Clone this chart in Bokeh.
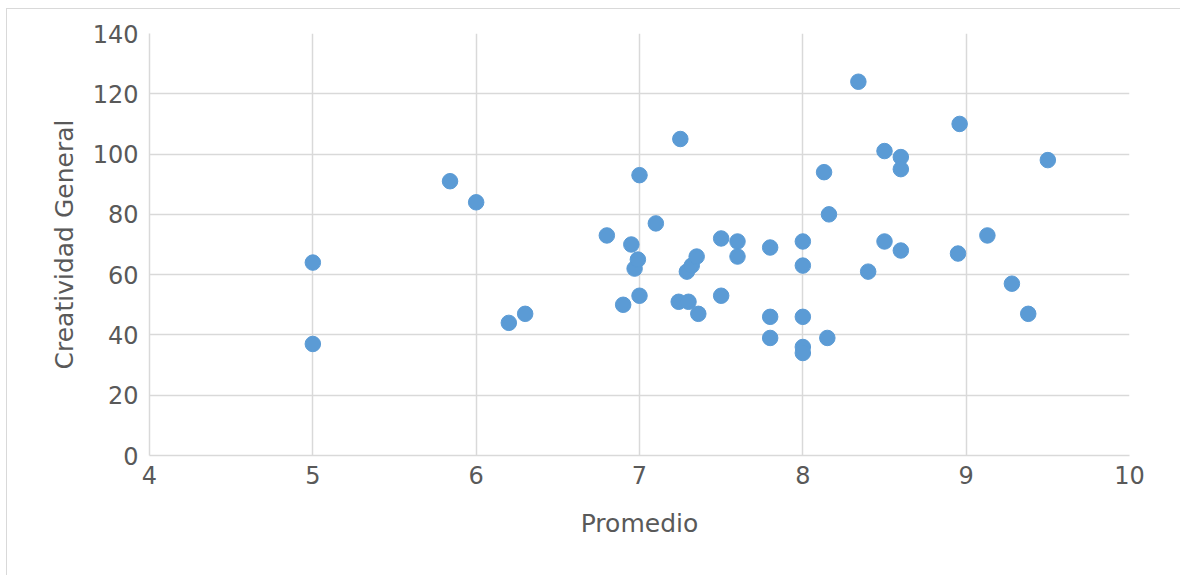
from bokeh.plotting import figure
from bokeh.models import FixedTicker, Range1d
from bokeh.embed import file_html
from bokeh.resources import INLINE

# Data
promedio = [5.0, 5.0, 5.84, 6.0, 6.2, 6.3, 6.8, 6.9, 6.95, 6.97, 6.99, 7.0, 7.0, 7.1,
            7.25, 7.24, 7.3, 7.29, 7.32, 7.35, 7.36, 7.5, 7.5, 7.6, 7.6, 7.8, 7.8, 7.8,
            8.0, 8.0, 8.0, 8.0, 8.0, 8.13, 8.16, 8.15, 8.34, 8.4, 8.5, 8.5, 8.6, 8.6,
            8.6, 8.96, 8.95, 9.13, 9.28, 9.38, 9.5]
creatividad = [64, 37, 91, 84, 44, 47, 73, 50, 70, 62, 65, 93, 53, 77,
               105, 51, 51, 61, 63, 66, 47, 72, 53, 71, 66, 69, 46, 39,
               71, 63, 46, 36, 34, 94, 80, 39, 124, 61, 101, 71, 99, 95,
               68, 110, 67, 73, 57, 47, 98]
x_ticks = [4, 5, 6, 7, 8, 9, 10]
y_ticks = [0, 20, 40, 60, 80, 100, 120, 140]
x_title = "Promedio"
y_title = "Creatividad General"

FONT = "DejaVu Sans"
TXT = "#595959"
GRID = "#d9d9d9"
BLUE = "#5b9bd5"

p = figure(width=1174, height=567, output_backend="svg", toolbar_location=None,
           x_range=Range1d(4, 10), y_range=Range1d(0, 140),
           min_border_left=142, min_border_right=52, min_border_top=24, min_border_bottom=121)
p.styles = {"margin-left": "6px", "margin-top": "8px",
            "border-left": "1px solid #d9d9d9", "border-top": "1px solid #d9d9d9"}
p.outline_line_color = None

p.scatter(promedio, creatividad, size=15.5, fill_color=BLUE, line_color=BLUE)

for ax in (p.xaxis[0], p.yaxis[0]):
    ax.axis_line_color = GRID
    ax.axis_line_width = 1.5
    ax.major_tick_line_color = None
    ax.minor_tick_line_color = None
    ax.major_label_text_font = FONT
    ax.major_label_text_font_size = "24px"
    ax.major_label_text_color = TXT
    ax.axis_label_text_font = FONT
    ax.axis_label_text_font_size = "25px"
    ax.axis_label_text_font_style = "normal"
    ax.axis_label_text_color = TXT

p.xaxis.ticker = FixedTicker(ticks=x_ticks)
p.yaxis.ticker = FixedTicker(ticks=y_ticks)
p.xaxis.axis_label = x_title
p.yaxis.axis_label = y_title
p.xaxis.major_label_standoff = 4
p.yaxis.major_label_standoff = 5
p.xaxis.axis_label_standoff = 22
p.yaxis.axis_label_standoff = 11

p.xgrid.ticker = FixedTicker(ticks=x_ticks)
p.ygrid.ticker = FixedTicker(ticks=y_ticks)
p.grid.grid_line_color = GRID
p.grid.grid_line_width = 1.5

open("out.html", "w").write(file_html(p, INLINE))
